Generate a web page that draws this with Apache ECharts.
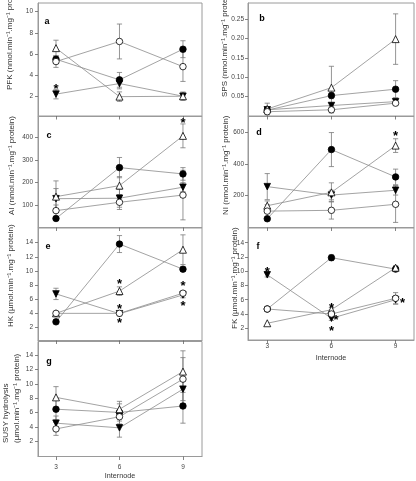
<!DOCTYPE html>
<html>
<head>
<meta charset="utf-8">
<script src="https://cdn.jsdelivr.net/npm/echarts@6/dist/echarts.min.js"></script>
<style>html,body{margin:0;padding:0;background:#fff}#c{width:416px;height:481px}</style>
</head>
<body>
<div id="c"></div>
<script>
// x categories (internode)
const internodes = [3, 6, 9];

// series order in each panel: filled circle, open circle, open triangle, filled down-triangle
// a: PFK
const pfkFC = [5.5, 3.55, 6.45], pfkFCerr = [0.3, 0.7, 0.8];
const pfkOC = [5.28, 7.18, 4.8], pfkOCerr = [0.55, 1.65, 1.4];
const pfkOT = [6.55, 1.96, 2.0], pfkOTerr = [0.75, 0.45, 0.4];
const pfkDT = [2.2, 3.2, 2.0], pfkDTerr = [0.45, 0.5, 0.3];
const pfkStars = [[3, 2.95]];
// b: SPS
const spsFC = [0.015, 0.0526, 0.069], spsFCerr = [0.005, 0.008, 0.022];
const spsOC = [0.011, 0.016, 0.033], spsOCerr = [0.005, 0.008, 0.005];
const spsOT = [0.018, 0.073, 0.198], spsOTerr = [0.015, 0.055, 0.065];
const spsDT = [0.016, 0.027, 0.037], spsDTerr = [0.005, 0.006, 0.008];
const spsStars = [];
// c: AI
const aiFC = [40, 266, 238], aiFCerr = [0, 45, 28];
const aiOC = [75, 112, 144], aiOCerr = [25, 32, 110];
const aiOT = [137, 186, 407], aiOTerr = [70, 40, 53];
const aiDT = [128, 130, 179], aiDTerr = [45, 40, 20];
const aiStars = [[9, 478]];
// d: NI
const niFC = [55, 490, 318], niFCerr = [0, 107, 49];
const niOC = [103, 108, 146], niOCerr = [40, 55, 114];
const niOT = [137, 221, 515], niOTerr = [30, 60, 43];
const niDT = [257, 204, 234], niDTerr = [82, 30, 30];
const niStars = [[9, 594]];
// e: HK
const hkFC = [2.8, 13.8, 10.25], hkFCerr = [0, 1.2, 0.3];
const hkOC = [4.0, 4.0, 6.85], hkOCerr = [0.2, 0.2, 0.3];
const hkOT = [4.0, 7.15, 13.0], hkOTerr = [0.2, 0.6, 2.1];
const hkDT = [6.75, 3.95, 6.6], hkDTerr = [0.8, 0.3, 0.4];
const hkStars = [[6, 8.6], [6, 5.0], [6, 3.0], [9, 8.3], [9, 5.5]];
// f: FK
const fkFC = [4.7, 11.9, 10.3], fkFCerr = [0, 0.4, 0.3];
const fkOC = [4.7, 4.0, 6.2], fkOCerr = [0, 0.4, 0.8];
const fkOT = [2.7, 4.6, 10.5], fkOTerr = [0, 0.3, 0.3];
const fkDT = [9.5, 3.4, 6.0], fkDTerr = [0.3, 0.3, 0.6];
const fkStars = [[3, 10.3], [6, 5.3], [6, 2.0], [6.22, 3.6], [9.32, 6.0]];
// g: SUSY hydrolysis
const susyFC = [6.45, 6.0, 6.9], susyFCerr = [1.5, 1.2, 2.4];
const susyOC = [3.7, 5.4, 10.65], susyOCerr = [0.9, 1.0, 3.0];
const susyOT = [8.1, 6.45, 11.7], susyOTerr = [1.5, 1.1, 2.9];
const susyDT = [4.5, 3.85, 9.25], susyDTerr = [1.0, 1.3, 2.0];
const susyStars = [];

// tick labels
const ticksPFK = [2, 4, 6, 8, 10];
const ticksSPS = [0.05, 0.10, 0.15, 0.20, 0.25];
const ticksAI = [100, 200, 300, 400];
const ticksNI = [200, 400, 600];
const ticksHK = [2, 4, 6, 8, 10, 12, 14];
const ticksFK = [2, 4, 6, 8, 10, 12, 14];
const ticksSUSY = [2, 4, 6, 8, 10, 12, 14];

const panels = [
  {letter:'a', title:['PFK (nmol.min⁻¹.mg⁻¹ protein)'], d:[pfkFC,pfkFCerr,pfkOC,pfkOCerr,pfkOT,pfkOTerr,pfkDT,pfkDTerr], stars:pfkStars, ticks:ticksPFK,
   grid:{left:38, top:3, width:164, height:113}, ymin:0.13, ymax:10.82, side:'L', titlePos:[10, 90], letterPos:[47, 22]},
  {letter:'b', title:['SPS (nmol.min⁻¹.mg⁻¹ protein)'], d:[spsFC,spsFCerr,spsOC,spsOCerr,spsOT,spsOTerr,spsDT,spsDTerr], stars:spsStars, ticks:ticksSPS, fmt:2,
   grid:{left:248, top:3, width:166, height:113}, ymin:0, ymax:0.291, side:'R', titlePos:[225, 97], letterPos:[262, 19]},
  {letter:'c', title:['AI (nmol.min⁻¹.mg⁻¹ protein)'], d:[aiFC,aiFCerr,aiOC,aiOCerr,aiOT,aiOTerr,aiDT,aiDTerr], stars:aiStars, ticks:ticksAI,
   grid:{left:38, top:116.5, width:164, height:111}, ymin:0, ymax:493, side:'L', titlePos:[11.7, 215], letterPos:[49, 136]},
  {letter:'d', title:['NI (nmol.min⁻¹.mg⁻¹ protein)'], d:[niFC,niFCerr,niOC,niOCerr,niOT,niOTerr,niDT,niDTerr], stars:niStars, ticks:ticksNI,
   grid:{left:248, top:116.5, width:166, height:111}, ymin:0, ymax:698, side:'R', titlePos:[225.7, 215], letterPos:[259, 133]},
  {letter:'e', title:['HK (µmol.min⁻¹.mg⁻¹ protein)'], d:[hkFC,hkFCerr,hkOC,hkOCerr,hkOT,hkOTerr,hkDT,hkDTerr], stars:hkStars, ticks:ticksHK,
   grid:{left:38, top:228, width:164, height:112.5}, ymin:0.16, ymax:16.07, side:'L', titlePos:[10.7, 327], letterPos:[48, 247]},
  {letter:'f', title:['FK (µmol.min⁻¹.mg⁻¹ protein)'], d:[fkFC,fkFCerr,fkOC,fkOCerr,fkOT,fkOTerr,fkDT,fkDTerr], stars:fkStars, ticks:ticksFK,
   grid:{left:248, top:228, width:166, height:112}, ymin:0.35, ymax:16.07, side:'R', titlePos:[234.5, 329], letterPos:[258, 247], xlabels:true, labelMargin:3, nameGap:14.5},
  {letter:'g', title:['SUSY hydrolysis','(µmol.min⁻¹.mg⁻¹ protein)'], d:[susyFC,susyFCerr,susyOC,susyOCerr,susyOT,susyOTerr,susyDT,susyDTerr], stars:susyStars, ticks:ticksSUSY,
   grid:{left:38, top:341.5, width:164, height:115}, ymin:-0.15, ymax:15.9, side:'L', titlePos:[6, 443], titlePos2:[16.7, 443], letterPos:[49, 362], xlabels:true, labelMargin:7.5, nameGap:16.5}
];

const FRAME = '#9a9a9a';
const LINE = '#8c8c8c';
const FONT = 'Liberation Sans, Arial, sans-serif';

const styles = [
  {symbol:'circle', size:6.5, rotate:0, color:'#000', border:'#000'},
  {symbol:'circle', size:6.5, rotate:0, color:'#fff', border:'#000'},
  {symbol:'triangle', size:7, rotate:0, color:'#fff', border:'#000'},
  {symbol:'triangle', size:6.5, rotate:180, color:'#000', border:'#000'}
];

const grid = [], xAxis = [], yAxis = [], series = [], graphic = [];

panels.forEach((p, i) => {
  grid.push(Object.assign({show:true, borderColor:FRAME, borderWidth:1, backgroundColor:'transparent', containLabel:false, outerBoundsMode:'none'}, p.grid));
  const xr = p.side === 'L' ? [2.15, 9.9] : [2.1, 9.86];
  xAxis.push({
    type:'value', gridIndex:i, min:xr[0], max:xr[1],
    axisLine:{show:true, onZero:false, lineStyle:{color:FRAME, width:1}},
    axisTick:{show:true, inside:false, length:3.5, lineStyle:{color:'#666', width:0.8}, customValues:internodes},
    axisLabel:{show:!!p.xlabels, customValues:internodes, fontSize:6.5, color:'#444', fontFamily:FONT, margin:p.labelMargin||5},
    splitLine:{show:false},
    name:p.xlabels ? 'Internode' : '', nameLocation:'middle', nameGap:p.nameGap||15,
    nameTextStyle:{fontSize:7.2, color:'#333', fontFamily:FONT}
  });
  yAxis.push({
    type:'value', gridIndex:i, min:p.ymin, max:p.ymax,
    axisLine:{show:true, onZero:false, lineStyle:{color:FRAME, width:1}},
    axisTick:{show:true, inside:false, length:3, lineStyle:{color:'#666', width:0.8}, customValues:p.ticks},
    axisLabel:{customValues:p.ticks, fontSize:6.5, color:'#444', fontFamily:FONT, margin:p.side==='L'?5:4,
      formatter: v => p.fmt ? Number(v).toFixed(p.fmt) : String(v)},
    splitLine:{show:false}
  });

  // error bars
  const errData = [];
  for (let s = 0; s < 4; s++) {
    const vals = p.d[s*2], errs = p.d[s*2+1];
    internodes.forEach((x, k) => { if (errs[k] > 0) errData.push([x, vals[k], errs[k]]); });
  }
  series.push({
    type:'custom', xAxisIndex:i, yAxisIndex:i, z:1, silent:true, data:errData,
    renderItem:(params, api) => {
      const x = api.value(0), y = api.value(1), e = api.value(2);
      const t = api.coord([x, y + e]), b = api.coord([x, y - e]);
      const cap = 2.6, st = {stroke:'#7a7a7a', lineWidth:0.8};
      return {type:'group', children:[
        {type:'line', shape:{x1:t[0], y1:t[1], x2:b[0], y2:b[1]}, style:st},
        {type:'line', shape:{x1:t[0]-cap, y1:t[1], x2:t[0]+cap, y2:t[1]}, style:st},
        {type:'line', shape:{x1:b[0]-cap, y1:b[1], x2:b[0]+cap, y2:b[1]}, style:st}
      ]};
    }
  });

  // lines + symbols (draw order: filled circle, down-triangle, open triangle, open circle)
  [0, 3, 2, 1].forEach(s => {
    const st = styles[s];
    const vals = p.d[s*2];
    series.push({
      type:'line', xAxisIndex:i, yAxisIndex:i, z:3, silent:true,
      data: internodes.map((x, k) => [x, vals[k]]),
      symbol:st.symbol, symbolSize:st.size, symbolRotate:st.rotate, showSymbol:true,
      lineStyle:{color:LINE, width:0.8},
      itemStyle:{color:st.color, borderColor:st.border, borderWidth:0.8, opacity:1}
    });
  });

  // significance stars
  if (p.stars.length) {
    series.push({
      type:'scatter', xAxisIndex:i, yAxisIndex:i, z:4, silent:true, data:p.stars,
      symbolSize:1, itemStyle:{color:'rgba(0,0,0,0)'},
      label:{show:true, position:'inside', formatter:'*', fontSize:13, fontWeight:'bold', color:'#000', opacity:1, fontFamily:FONT, offset:[0, 3.2]}
    });
  }

  // y-axis title(s)
  graphic.push({type:'text', x:p.titlePos[0], y:p.titlePos[1], rotation:Math.PI/2,
    style:{text:p.title[0], fontSize:8, fontFamily:FONT, fill:'#333', textAlign:'left', textVerticalAlign:'middle'}});
  if (p.title[1]) {
    graphic.push({type:'text', x:p.titlePos2[0], y:p.titlePos2[1], rotation:Math.PI/2,
      style:{text:p.title[1], fontSize:8, fontFamily:FONT, fill:'#333', textAlign:'left', textVerticalAlign:'middle'}});
  }
  // panel letter
  graphic.push({type:'text', x:p.letterPos[0], y:p.letterPos[1],
    style:{text:p.letter, fontSize:9, fontWeight:'bold', fontFamily:FONT, fill:'#000', textAlign:'center', textVerticalAlign:'middle'}});
});

const chart = echarts.init(document.getElementById('c'), null, {renderer:'canvas'});
chart.setOption({animation:false, backgroundColor:'#fff', grid, xAxis, yAxis, series, graphic});
</script>
</body>
</html>
